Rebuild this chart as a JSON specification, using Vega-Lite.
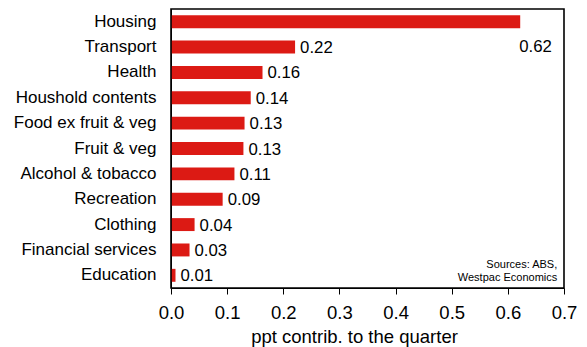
{
  "$schema": "https://vega.github.io/schema/vega-lite/v6.json",
  "autosize": {"type": "none"},
  "padding": {"left": 171, "top": 9, "right": 23, "bottom": 59},
  "width": 393,
  "height": 279,
  "background": "white",
  "config": {
    "font": "Liberation Sans",
    "view": {"stroke": null}
  },
  "data": {
    "values": [
      {"category": "Housing", "value": 0.622, "label": "0.62"},
      {"category": "Transport", "value": 0.221, "label": "0.22"},
      {"category": "Health", "value": 0.163, "label": "0.16"},
      {"category": "Houshold contents", "value": 0.142, "label": "0.14"},
      {"category": "Food ex fruit & veg", "value": 0.131, "label": "0.13"},
      {"category": "Fruit & veg", "value": 0.129, "label": "0.13"},
      {"category": "Alcohol & tobacco", "value": 0.113, "label": "0.11"},
      {"category": "Recreation", "value": 0.092, "label": "0.09"},
      {"category": "Clothing", "value": 0.042, "label": "0.04"},
      {"category": "Financial services", "value": 0.033, "label": "0.03"},
      {"category": "Education", "value": 0.008, "label": "0.01"}
    ]
  },
  "layer": [
    {
      "mark": {"type": "bar", "color": "#dc1a14"},
      "encoding": {
        "y": {
          "field": "category",
          "type": "nominal",
          "sort": null,
          "scale": {"paddingInner": 0.49, "paddingOuter": 0.245},
          "axis": {
            "title": null,
            "ticks": false,
            "domain": true,
            "domainColor": "black",
            "labelFontSize": 17,
            "labelColor": "black",
            "labelPadding": 15
          }
        },
        "x": {
          "field": "value",
          "type": "quantitative",
          "scale": {"domain": [0, 0.7], "nice": false},
          "axis": {
            "title": "ppt contrib. to the quarter",
            "values": [0, 0.1, 0.2, 0.3, 0.4, 0.5, 0.6, 0.7],
            "format": ".1f",
            "grid": false,
            "tickSize": 6,
            "tickColor": "black",
            "domainColor": "black",
            "labelFontSize": 18.5,
            "labelColor": "black",
            "labelPadding": 9,
            "labelFlush": false,
            "titleFontSize": 18.5,
            "titleFontWeight": "normal",
            "titleColor": "black",
            "titlePadding": 6,
            "titleX": 183
          }
        }
      }
    },
    {
      "transform": [{"filter": "datum.category != 'Housing'"}],
      "mark": {"type": "text", "align": "left", "baseline": "middle", "dx": 5, "dy": 1, "fontSize": 16.8, "color": "black"},
      "encoding": {
        "y": {"field": "category", "type": "nominal", "sort": null},
        "x": {"field": "value", "type": "quantitative"},
        "text": {"field": "label"}
      }
    },
    {
      "transform": [{"filter": "datum.category == 'Housing'"}],
      "mark": {"type": "text", "align": "left", "baseline": "middle", "dx": -1, "dy": 25, "fontSize": 16.8, "color": "black"},
      "encoding": {
        "y": {"field": "category", "type": "nominal", "sort": null},
        "x": {"field": "value", "type": "quantitative"},
        "text": {"field": "label"}
      }
    },
    {
      "data": {"values": [{"category": "Education", "value": 0.688}]},
      "mark": {"type": "text", "align": "right", "baseline": "middle", "fontSize": 11, "lineHeight": 13, "dy": -10, "color": "black", "text": ["Sources: ABS,", "Westpac Economics"]},
      "encoding": {
        "y": {"field": "category", "type": "nominal", "sort": null},
        "x": {"field": "value", "type": "quantitative"}
      }
    },
    {
      "data": {"values": [{"lo": 0, "hi": 0.7}]},
      "mark": {"type": "rect", "filled": false, "color": "black", "strokeWidth": 1.6},
      "encoding": {
        "x": {"field": "lo", "type": "quantitative"},
        "x2": {"field": "hi"}
      }
    }
  ]
}
